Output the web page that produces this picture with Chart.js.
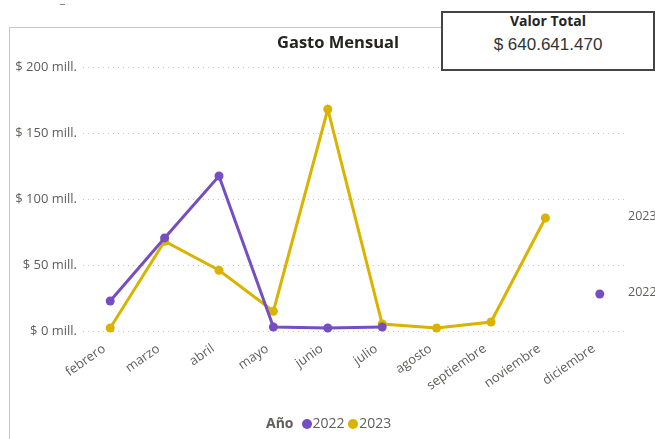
<!DOCTYPE html>
<html>
<head>
<meta charset="utf-8">
<script src="https://cdn.jsdelivr.net/npm/chart.js@4"></script>
<style>
  body { margin: 0; width: 655px; height: 439px; overflow: hidden; background: #fff; font-family: "Segoe UI", "Open Sans", sans-serif; }
  #frame { position: absolute; left: 9px; top: 27px; width: 700px; height: 500px; border-left: 1px solid #c8c6c4; border-top: 1px solid #c8c6c4; }
  #wrap { position: absolute; left: 0; top: 0; width: 655px; height: 439px; }
  #title { position: absolute; left: 238px; width: 200px; top: 30px; text-align: center; font-weight: bold; font-size: 16.5px; color: #252423; }
  #card { position: absolute; left: 441px; top: 11px; width: 210px; height: 56px; border: 2px solid #444; background: #fff; text-align: center; color: #252423; }
  #card .t { font-weight: bold; font-size: 14px; margin-top: -2px; }
  #card .v { font-size: 17px; margin-top: 5px; color: #333; font-family: "Segoe UI", "Liberation Sans", sans-serif; }
  #legend { position: absolute; left: 266px; top: 413px; font-size: 14px; color: #605e5c; white-space: nowrap; }
  #legend b { color: #605e5c; margin-right: 8px; }
  #legend .dot { display: inline-block; width: 10px; height: 10px; border-radius: 50%; margin-right: 1px; vertical-align: -1px; }
  #dash { position: absolute; left: 60px; top: 4px; width: 5px; height: 1px; background: #888; }
</style>
</head>
<body>
<div id="dash"></div>
<div id="frame"></div>
<div id="wrap"><canvas id="chart" width="655" height="439"></canvas></div>
<div id="title">Gasto Mensual</div>
<div id="card"><div class="t">Valor Total</div><div class="v">$ 640.641.470</div></div>
<div id="legend"><b>Año</b><span class="dot" style="background:#744ec2"></span>2022 <span class="dot" style="background:#d9b300"></span>2023</div>
<script>
// meses y gasto en millones
const meses = ['febrero', 'marzo', 'abril', 'mayo', 'junio', 'julio', 'agosto', 'septiembre', 'noviembre', 'diciembre'];
const gasto2022 = [22.7, 70.5, 117.4, 3.0, 2.3, 3.0, null, null, null, 28.0];
const gasto2023 = [2.3, 68.0, 46.0, 15.0, 168.0, 5.3, 2.3, 6.8, 85.6, null];
const yTicks = [0, 50, 100, 150, 200];

const colors = { '2022': '#744ec2', '2023': '#d9b300' };
const fontFam = '"Segoe UI", "Open Sans", sans-serif';

// etiqueta de serie al final de cada linea
const endLabels = {
  id: 'endLabels',
  afterDatasetsDraw(chart) {
    const ctx = chart.ctx;
    ctx.save();
    ctx.font = '12.5px ' + fontFam;
    ctx.fillStyle = '#605e5c';
    ctx.textBaseline = 'middle';
    chart.data.datasets.forEach((ds, i) => {
      const meta = chart.getDatasetMeta(i);
      let last = -1;
      ds.data.forEach((v, j) => { if (v !== null) last = j; });
      if (last < 0) return;
      const pt = meta.data[last];
      ctx.fillText(ds.label, chart.chartArea.right + 1, pt.y - 2);
    });
    ctx.restore();
  }
};

const ctx = document.getElementById('chart').getContext('2d');
new Chart(ctx, {
  type: 'line',
  data: {
    labels: meses,
    datasets: [
      { label: '2022', data: gasto2022 },
      { label: '2023', data: gasto2023 }
    ].map(d => ({
      ...d,
      borderColor: colors[d.label],
      backgroundColor: colors[d.label],
      borderWidth: 3,
      pointRadius: 4.5,
      pointHoverRadius: 4.5,
      pointBorderWidth: 0,
      spanGaps: false,
      clip: false,
      tension: 0
    }))
  },
  plugins: [endLabels],
  options: {
    responsive: false,
    animation: false,
    layout: { padding: { left: 10, right: 28, top: 67, bottom: 48 } },
    plugins: {
      legend: { display: false },
      tooltip: { enabled: false }
    },
    scales: {
      x: {
        offset: true,
        grid: { display: false },
        border: { display: false },
        ticks: {
          color: '#605e5c',
          font: { size: 13, family: fontFam },
          minRotation: 35,
          maxRotation: 35,
          autoSkip: false,
          labelOffset: -6,
          padding: 2
        },
        afterFit(scale) { scale.height = 60; }
      },
      y: {
        min: 0,
        max: 200,
        afterBuildTicks(scale) { scale.ticks = yTicks.map(v => ({ value: v })); },
        grid: { color: '#c8c6c4', lineWidth: 1, drawTicks: false },
        border: { display: false, dash: [1, 4] },
        ticks: {
          color: '#605e5c',
          font: { size: 13, family: fontFam },
          padding: 6,
          callback: v => '$ ' + v + ' mill.'
        },
        afterFit(scale) { scale.width = 73; }
      }
    }
  }
});
</script>
</body>
</html>
